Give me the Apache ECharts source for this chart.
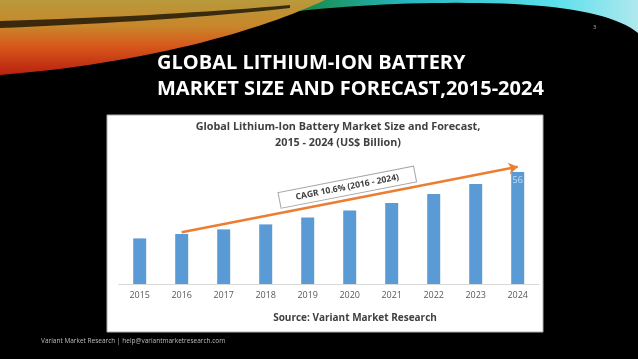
<!DOCTYPE html>
<html>
<head>
<meta charset="utf-8">
<script src="https://cdn.jsdelivr.net/npm/echarts@6/dist/echarts.min.js"></script>
<style>html,body{margin:0;padding:0;background:#000;}#c{width:638px;height:359px;}</style>
</head>
<body>
<div id="c"></div>
<script>
const years = ['2015','2016','2017','2018','2019','2020','2021','2022','2023','2024'];
const marketSize = [22.8, 25.0, 27.3, 29.8, 33.3, 36.8, 40.5, 45.0, 50.0, 56.0];
const labelledValue = '56';
const cagrText = 'CAGR 10.6% (2016 - 2024)';
const arrowFrom = ['2016', 25.9];
const arrowTo = ['2024', 58.6];
const slideTitle = 'GLOBAL LITHIUM-ION BATTERY\nMARKET SIZE AND FORECAST,2015-2024';
const chartTitle = 'Global Lithium-Ion Battery Market Size and Forecast,\n2015 - 2024 (US$ Billion)';
const sourceText = 'Source: Variant Market Research';
const footerText = 'Variant Market Research | help@variantmarketresearch.com';
const pageNum = '3';

const chart = echarts.init(document.getElementById('c'), null, {renderer:'canvas'});
const font = '"Open Sans", "Liberation Sans", sans-serif';
const LG = echarts.graphic.LinearGradient;

// decorative slide swoosh outlines (cubic bezier sampled into polygons)
function bez(p0, p1, p2, p3, n) {
  const pts = [];
  for (let i = 0; i <= n; i++) {
    const t = i / n, u = 1 - t;
    pts.push([
      u*u*u*p0[0] + 3*u*u*t*p1[0] + 3*u*t*t*p2[0] + t*t*t*p3[0],
      u*u*u*p0[1] + 3*u*u*t*p1[1] + 3*u*t*t*p2[1] + t*t*t*p3[1]
    ]);
  }
  return pts;
}
const warmPts = [[0,0],[325,0]].concat(bez([325,0],[270,26],[160,62],[0,75],30));
const stripePts = bez([0,21],[100,18],[200,13],[290,5],20).concat(bez([290,8],[200,18],[100,24],[0,28],20));
const coolPts = [[220,0],[638,0],[638,33]].concat(bez([638,33],[615,14],[560,4],[480,3],20)).concat(bez([480,3],[400,2],[320,6],[230,20],20));

chart.setOption({
  backgroundColor: '#000',
  animation: false,
  graphic: [
    { type:'polygon', z:-10, silent:true, shape:{ points: coolPts },
      style:{ fill: new LG(0,0,1,0,[
        {offset:0, color:'#3a7a2a'}, {offset:0.2, color:'#168a4a'}, {offset:0.45, color:'#26b8c0'}, {offset:0.8, color:'#5ae0ec'}, {offset:1, color:'#b0e8ee'} ]) } },
    { type:'polygon', z:-9, silent:true, shape:{ points: warmPts },
      style:{ fill: new LG(0,0,0,1,[
        {offset:0, color:'#b89a3c'}, {offset:0.35, color:'#c8862a'}, {offset:0.6, color:'#d85a1c'}, {offset:1, color:'#b8200e'} ]) } },
    { type:'polygon', z:-8, silent:true, shape:{ points: stripePts },
      style:{ fill:'rgba(0,0,0,0.7)' } },
    { type:'rect', z:-5, silent:true, shape:{ x:107, y:115, width:436, height:217 },
      style:{ fill:'#fff', stroke:'#b0b0b0', lineWidth:1 } }
  ],
  title: [
    { text: slideTitle, left: 157, top: 50, padding:0,
      textStyle:{ color:'#fff', fontSize:20, fontWeight:'bold', fontFamily:font, lineHeight:26 } },
    { text: chartTitle, left: 338, top: 119, textAlign:'center', padding:0,
      textStyle:{ color:'#404040', fontSize:10.8, fontWeight:'bold', fontFamily:font, lineHeight:16 } },
    { text: sourceText, left: 355, top: 312, textAlign:'center', padding:0,
      textStyle:{ color:'#404040', fontSize:10, fontWeight:'bold', fontFamily:font, lineHeight:12 } },
    { text: footerText, left: 41, top: 337, padding:0,
      textStyle:{ color:'#bdbdbd', fontSize:6.5, fontWeight:'normal', fontFamily:font, lineHeight:8 } },
    { text: pageNum, left: 593, top: 23, padding:0,
      textStyle:{ color:'#aaaaaa', fontSize:6, fontWeight:'normal', fontFamily:font, lineHeight:8 } }
  ],
  grid: { left: 118.7, width: 420, top: 164, height: 120 },
  xAxis: {
    type:'category', data: years,
    axisLine:{ lineStyle:{ color:'#d9d9d9', width:1 } },
    axisTick:{ show:false },
    axisLabel:{ color:'#595959', fontSize:9, fontFamily:font, margin:7 }
  },
  yAxis: { type:'value', min:0, max:60, show:false, splitLine:{show:false} },
  series: [{
    type:'bar', barWidth: 13,
    data: marketSize.map((v,i) => i === marketSize.length-1
      ? { value:v, label:{ show:true, position:'insideTop', distance:4, formatter: labelledValue, color:'#c8dcf2', fontSize:9, fontFamily:font } }
      : v),
    itemStyle:{ color:'#5b9bd5' },
    emphasis:{ disabled:true },
    markLine: {
      silent:true, symbol:['none','arrow'], symbolSize:9,
      lineStyle:{ color:'#ed7d31', width:2.5, type:'solid' },
      label:{ show:true, position:'insideMiddleTop', distance:5, formatter: cagrText,
        color:'#404040', fontSize:8.6, fontWeight:'bold', fontFamily:font,
        backgroundColor:'#fff', borderColor:'#a6a6a6', borderWidth:1, padding:[3,16,3,16] },
      data: [[ { coord: arrowFrom }, { coord: arrowTo } ]]
    }
  }]
});
</script>
</body>
</html>
